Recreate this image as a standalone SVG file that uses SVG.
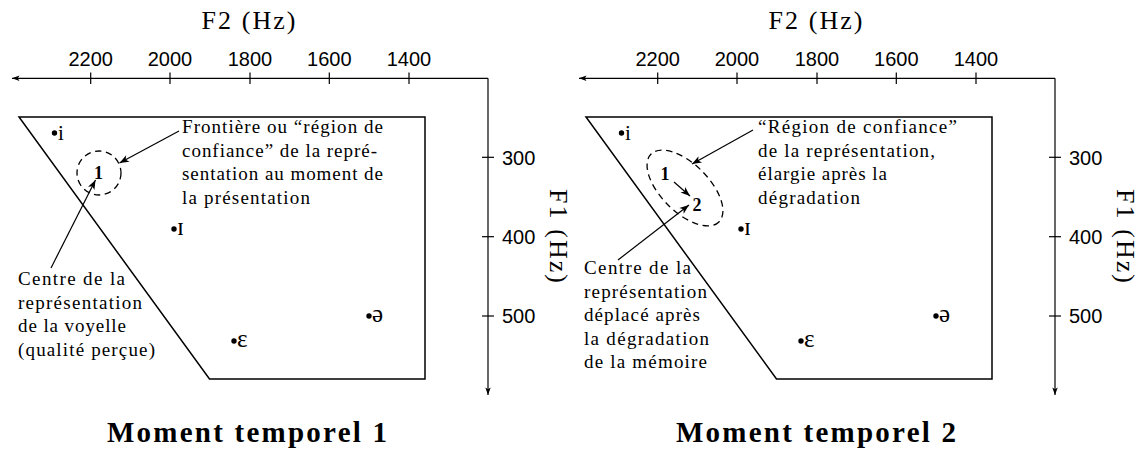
<svg xmlns="http://www.w3.org/2000/svg" width="1146" height="450" viewBox="0 0 1146 450">
<style>
.ax{stroke:#000;stroke-width:1.2;fill:none}
.tk{stroke:#000;stroke-width:1.2}
.poly{stroke:#000;stroke-width:1.5;fill:none}
.dash{stroke:#000;stroke-width:1.3;fill:none;stroke-dasharray:6.5 4.5}
.arr{stroke:#000;stroke-width:1.2;fill:none;marker-end:url(#ah)}
.sans{font-family:"Liberation Sans",Arial,sans-serif;font-size:20px;fill:#000}
.ttl{font-family:"Liberation Serif","Times New Roman",serif;font-size:26px;fill:#000}
.txt{font-family:"Liberation Serif","Times New Roman",serif;font-size:19px;fill:#000}
.vw{font-family:"Liberation Serif","DejaVu Serif",serif;font-size:25px;fill:#000}
.vi{font-family:"Liberation Serif","DejaVu Serif",serif;font-size:21px;fill:#000}
.num{font-family:"Liberation Serif","Times New Roman",serif;font-size:18px;font-weight:bold;fill:#000}
.big{font-family:"Liberation Serif","Times New Roman",serif;font-size:29px;font-weight:bold;fill:#000}
</style>
<defs>
<marker id="ah" viewBox="-10 -5 11 10" refX="0" refY="0" markerWidth="11" markerHeight="10" markerUnits="userSpaceOnUse" orient="auto"><path d="M0,0 L-9.5,-3.6 L-7,0 L-9.5,3.6 Z" fill="#000"/></marker>
<marker id="axh" viewBox="-8 -4 9 8" refX="0" refY="0" markerWidth="9" markerHeight="8" markerUnits="userSpaceOnUse" orient="auto"><path d="M0,0 L-7.5,-2.7 L-5.8,0 L-7.5,2.7 Z" fill="#000"/></marker>
<g id="frame">
<line class="ax" x1="488" y1="78.3" x2="12" y2="78.3" marker-end="url(#axh)"/>
<line class="ax" x1="488" y1="78.3" x2="488" y2="395" marker-end="url(#axh)"/>
<g class="tk">
<line x1="90.7" y1="72.5" x2="90.7" y2="84"/><line x1="170" y1="72.5" x2="170" y2="84"/><line x1="250" y1="72.5" x2="250" y2="84"/><line x1="329.3" y1="72.5" x2="329.3" y2="84"/><line x1="409" y1="72.5" x2="409" y2="84"/>
<line x1="482" y1="157.3" x2="494" y2="157.3"/><line x1="482" y1="236.7" x2="494" y2="236.7"/><line x1="482" y1="316" x2="494" y2="316"/>
</g>
<g class="sans" text-anchor="middle">
<text x="90.7" y="66">2200</text><text x="170" y="66">2000</text><text x="250" y="66">1800</text><text x="329.3" y="66">1600</text><text x="409" y="66">1400</text>
</g>
<g class="sans">
<text x="502" y="164.5">300</text><text x="502" y="244">400</text><text x="502" y="323.3">500</text>
</g>
<text class="ttl" x="248.5" y="29" text-anchor="middle" textLength="94" lengthAdjust="spacing">F2 (Hz)</text>
<text class="ttl" transform="translate(550,236) rotate(90)" text-anchor="middle" textLength="94" lengthAdjust="spacing">F1 (Hz)</text>
<polygon class="poly" points="19,117 425,117 425,379 209.5,379"/>
<g id="vowels">
<circle cx="54.5" cy="133" r="2.7"/><text class="vi" x="58" y="139.5">i</text>
<circle cx="174" cy="229" r="2.7"/><text class="vw" x="177" y="234.5">ɪ</text>
<circle cx="234" cy="341" r="2.7"/><text class="vw" x="237" y="346.5">ɛ</text>
<circle cx="369" cy="316" r="2.7"/><text class="vw" x="372" y="321.5">ə</text>
</g>
</g>
</defs>

<g id="panel1">
<use href="#frame"/>
<g id="region1">
<circle class="dash" cx="99" cy="173" r="22"/>
<text class="num" x="98.5" y="179" text-anchor="middle">1</text>
</g>
<g id="label-frontiere" class="txt">
<text x="182" y="133" textLength="201" lengthAdjust="spacing">Frontière ou “région de</text>
<text x="182" y="156.5" textLength="195" lengthAdjust="spacing">confiance” de la repré-</text>
<text x="182" y="180" textLength="201" lengthAdjust="spacing">sentation au moment de</text>
<text x="182" y="203.5" textLength="128" lengthAdjust="spacing">la présentation</text>
</g>
<g id="label-centre1" class="txt">
<text x="18" y="285" textLength="107" lengthAdjust="spacing">Centre de la</text>
<text x="18" y="308.5" textLength="124" lengthAdjust="spacing">représentation</text>
<text x="18" y="332" textLength="108" lengthAdjust="spacing">de la voyelle</text>
<text x="18" y="355.5" textLength="137" lengthAdjust="spacing">(qualité perçue)</text>
</g>
<text id="title1" class="big" x="247" y="442" text-anchor="middle" textLength="280" lengthAdjust="spacing">Moment temporel 1</text>
</g>

<g id="panel2">
<g transform="translate(567,0)">
<use href="#frame"/>
<g id="region2">
<ellipse class="dash" cx="118" cy="188" rx="48" ry="24" transform="rotate(45 118 188)"/>
<text class="num" x="98" y="180" text-anchor="middle">1</text>
<text class="num" x="130" y="211" text-anchor="middle">2</text>
</g>
<g id="label-region" class="txt">
<text x="191" y="133" textLength="199" lengthAdjust="spacing">“Région de confiance”</text>
<text x="191" y="156.5" textLength="177" lengthAdjust="spacing">de la représentation,</text>
<text x="191" y="180" textLength="129" lengthAdjust="spacing">élargie après la</text>
<text x="191" y="203.5" textLength="102" lengthAdjust="spacing">dégradation</text>
</g>
<g id="label-centre2" class="txt">
<text x="17" y="274" textLength="107" lengthAdjust="spacing">Centre de la</text>
<text x="17" y="297.5" textLength="123" lengthAdjust="spacing">représentation</text>
<text x="17" y="321" textLength="116" lengthAdjust="spacing">déplacé après</text>
<text x="17" y="344.5" textLength="125" lengthAdjust="spacing">la dégradation</text>
<text x="17" y="368" textLength="123" lengthAdjust="spacing">de la mémoire</text>
</g>
</g>
<text id="title2" class="big" x="816" y="442" text-anchor="middle" textLength="280" lengthAdjust="spacing">Moment temporel 2</text>
</g>

<g id="connectors">
<line class="arr" x1="179" y1="131" x2="119.5" y2="163"/>
<line class="arr" x1="51" y1="268" x2="95.5" y2="180"/>
<line class="arr" x1="753" y1="130" x2="692" y2="164"/>
<line class="arr" x1="674" y1="182" x2="690" y2="196"/>
<line class="arr" x1="618" y1="260" x2="689" y2="205"/>
</g>
</svg>
